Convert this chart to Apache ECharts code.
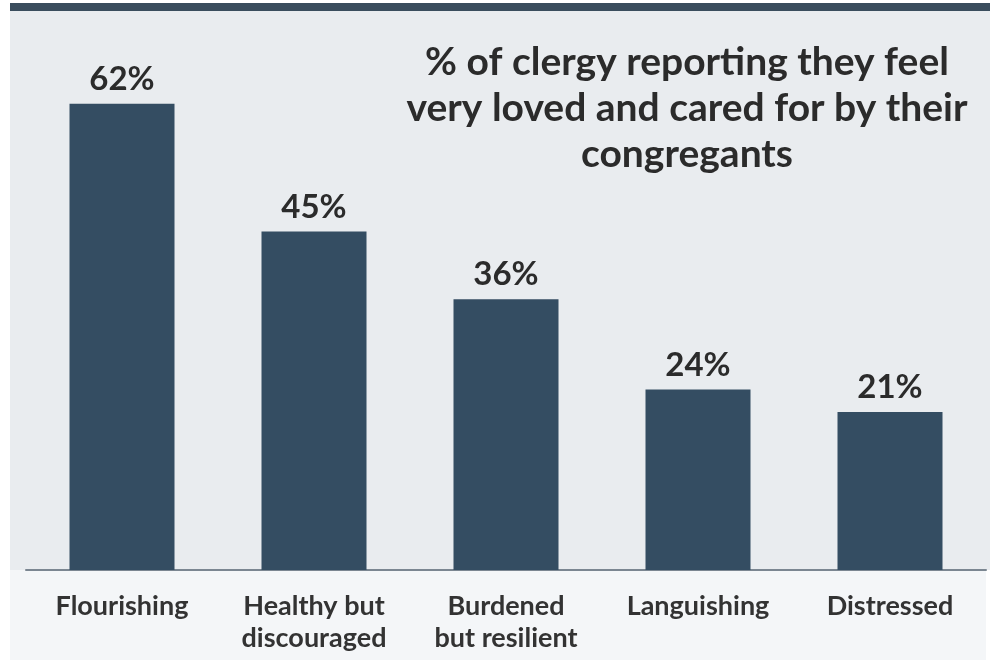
<!DOCTYPE html>
<html>
<head>
<meta charset="utf-8">
<script src="https://cdn.jsdelivr.net/npm/echarts@6/dist/echarts.min.js"></script>
<style>
  html, body { margin: 0; padding: 0; background: #ffffff; }
  #chart { width: 990px; height: 667px; }
</style>
</head>
<body>
<div id="chart"></div>
<script>
const categories = ['Flourishing', 'Healthy but\ndiscouraged', 'Burdened\nbut resilient', 'Languishing', 'Distressed']
const values = [62, 45, 36, 24, 21]
const titleText = '% of clergy reporting they feel\nvery loved and cared for by their\ncongregants'

const myChart = echarts.init(document.getElementById('chart'))

const option = {
  backgroundColor: '#ffffff',
  animation: false,
  graphic: [
    // grey panel behind bars
    { type: 'rect', z: -10, shape: { x: 10, y: 6, width: 980, height: 564 }, style: { fill: '#e9ecef' } },
    // lighter band under the axis
    { type: 'rect', z: -10, shape: { x: 10, y: 570, width: 976, height: 90 }, style: { fill: '#f4f6f8' } },
    // dark rule on top
    { type: 'rect', z: -5, shape: { x: 10, y: 3, width: 980, height: 8 }, style: { fill: '#3a4d5d' } }
  ],
  title: {
    text: titleText,
    left: 682,
    top: 34,
    textAlign: 'center',
    textStyle: {
      fontFamily: 'Lato',
      fontWeight: 'bold',
      fontSize: 39,
      lineHeight: 46,
      color: '#2b2b2b'
    }
  },
  grid: {
    left: 26,
    right: 4,
    top: 6,
    bottom: 97,
    containLabel: false
  },
  xAxis: {
    type: 'category',
    data: categories,
    axisTick: { show: false },
    axisLine: { show: true, lineStyle: { color: '#7b8691', width: 2 } },
    axisLabel: {
      margin: 20,
      fontFamily: 'Lato',
      fontWeight: 'bold',
      fontSize: 27,
      lineHeight: 32,
      color: '#333333',
      interval: 0
    }
  },
  yAxis: {
    type: 'value',
    min: 0,
    max: 75,
    show: false,
    splitLine: { show: false }
  },
  series: [
    {
      type: 'bar',
      data: values,
      barWidth: 105,
      itemStyle: { color: '#344d62' },
      label: {
        show: true,
        position: 'top',
        distance: 8,
        formatter: '{c}%',
        fontFamily: 'Lato',
        fontWeight: 'bold',
        fontSize: 33,
        color: '#2b2b2b'
      }
    }
  ]
}

myChart.setOption(option)
</script>
</body>
</html>
